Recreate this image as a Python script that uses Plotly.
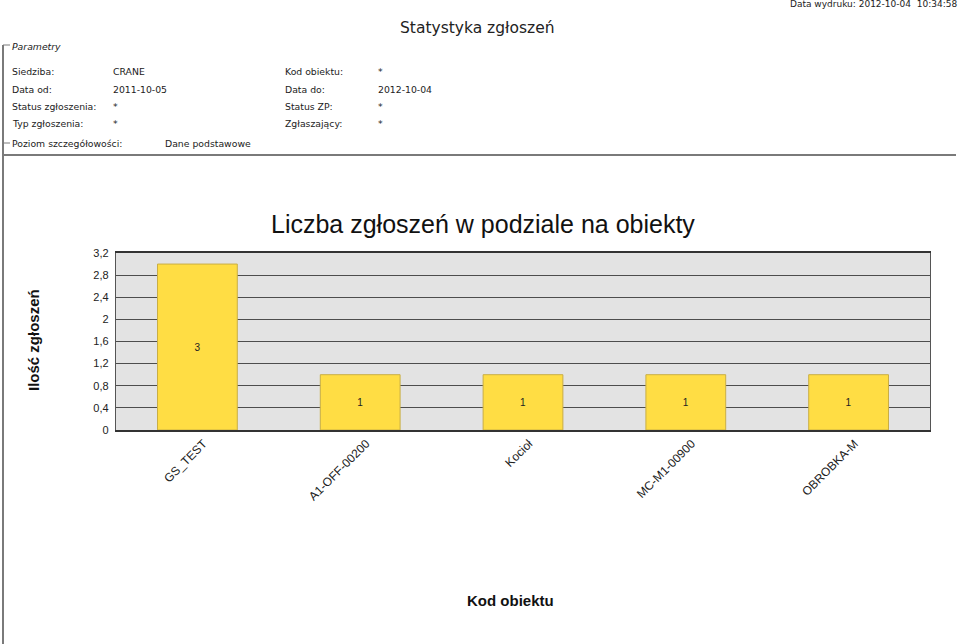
import plotly.graph_objects as go

# ---- data ----
categories = ["GS_TEST", "A1-OFF-00200", "Kocioł", "MC-M1-00900", "OBROBKA-M"]
values = [3, 1, 1, 1, 1]
y_tick_vals = [0, 0.4, 0.8, 1.2, 1.6, 2.0, 2.4, 2.8, 3.2]
y_tick_text = ["0", "0,4", "0,8", "1,2", "1,6", "2", "2,4", "2,8", "3,2"]

header_rows = [
    ("Siedziba:", "CRANE", "Kod obiektu:", "*"),
    ("Data od:", "2011-10-05", "Data do:", "2012-10-04"),
    ("Status zgłoszenia:", "*", "Status ZP:", "*"),
    ("Typ zgłoszenia:", "*", "Zgłaszający:", "*"),
]

W, H = 960, 644
L, R, T, B = 116, 930, 253, 430  # plot area in pixels


def px(x):
    return (x - L) / (R - L)


def py(y):
    return (B - y) / (B - T)


HFONT = "Tahoma, DejaVu Sans, sans-serif"
CFONT = "Arial, Liberation Sans, sans-serif"

fig = go.Figure()
fig.add_trace(go.Bar(
    x=categories,
    y=values,
    text=[str(v) for v in values],
    textposition="inside",
    insidetextanchor="middle",
    textangle=0,
    textfont=dict(family=CFONT, size=10, color="#222222"),
    marker=dict(color="#FFDD44", line=dict(color="#C9AE45", width=1)),
    width=0.49,
    hoverinfo="x+y",
))

ann = []
shapes = []


def note(text, x, y, xanchor="left", size=9.3, family=HFONT, color="#222", angle=0):
    ann.append(dict(text=text, x=px(x), y=py(y), xref="paper", yref="paper",
                    xanchor=xanchor, yanchor="middle", showarrow=False, textangle=angle,
                    borderpad=0, borderwidth=0,
                    font=dict(family=family, size=size, color=color)))


# page header
note("Data wydruku: 2012-10-04&nbsp;&nbsp;10:34:58", 957, 4, xanchor="right", size=9)
note("Statystyka zgłoszeń", 477, 28, xanchor="center", size=15.5)
note("<i>Parametry</i>", 12, 47)
row_y = [71, 89, 106, 123]
col_x = [12, 113, 285, 378]
for ry, row in zip(row_y, header_rows):
    for cx, txt in zip(col_x, row):
        note(txt, cx, ry)
note("Poziom szczegółowości:", 12, 143)
note("Dane podstawowe", 165, 143)

# chart title & axis titles
note("Liczba zgłoszeń w podziale na obiekty", 483, 224, xanchor="center", size=25,
     family=CFONT, color="#111")
note("<b>Ilość zgłoszeń</b>", 33, 340, xanchor="center", size=15, family=CFONT,
     color="#111", angle=-90)
note("<b>Kod obiektu</b>", 510, 600, xanchor="center", size=15, family=CFONT, color="#111")

# frame lines
lc = "#7a7a7a"


def hline(x0, x1, y, w):
    shapes.append(dict(type="line", xref="paper", yref="paper", x0=px(x0), x1=px(x1),
                       y0=py(y), y1=py(y), line=dict(color=lc, width=w)))


shapes.append(dict(type="line", xref="paper", yref="paper", x0=px(3), x1=px(3),
                   y0=py(45), y1=py(644), line=dict(color=lc, width=2)))
hline(3, 10, 45, 1)
hline(3, 10, 143, 1)
hline(3, 956, 155, 2)

fig.update_layout(
    width=W, height=H,
    margin=dict(l=L, r=W - R, t=T, b=H - B, autoexpand=False),
    paper_bgcolor="white",
    plot_bgcolor="#E3E3E3",
    showlegend=False,
    bargap=0.5,
    annotations=ann,
    shapes=shapes,
    xaxis=dict(
        type="category",
        tickangle=-45,
        ticklabelshift=6,
        tickfont=dict(family=CFONT, size=12, color="#222"),
        showline=True, linecolor="#333", linewidth=2, mirror=True,
        showgrid=False, ticks="", automargin=False,
    ),
    yaxis=dict(
        range=[0, 3.2],
        tickvals=y_tick_vals,
        ticktext=y_tick_text,
        tickfont=dict(family=CFONT, size=11, color="#222"),
        ticklabelstandoff=4,
        showgrid=True, gridcolor="#4d4d4d", gridwidth=1.3,
        showline=True, linecolor="#555", linewidth=1.3, mirror=True,
        zeroline=False, automargin=False,
    ),
)

fig.write_html("out.html")
